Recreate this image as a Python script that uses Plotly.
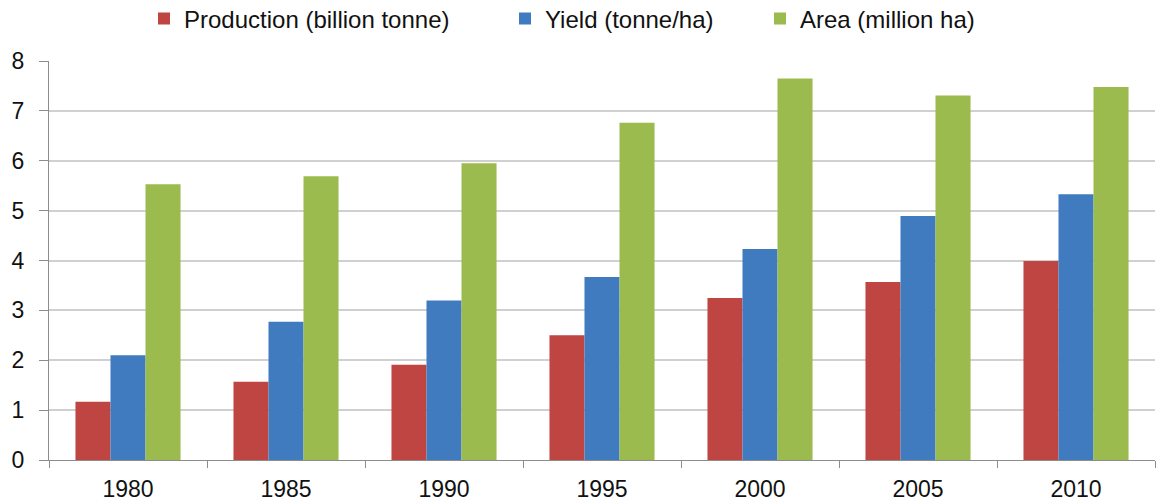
import plotly.graph_objects as go

years = ["1980", "1985", "1990", "1995", "2000", "2005", "2010"]
production = [1.17, 1.57, 1.91, 2.50, 3.25, 3.57, 3.99]   # billion tonne
yield_ = [2.10, 2.77, 3.20, 3.67, 4.23, 4.89, 5.33]       # tonne/ha
area = [5.53, 5.69, 5.95, 6.76, 7.65, 7.31, 7.48]         # million ha

names = ["Production (billion tonne)", "Yield (tonne/ha)", "Area (million ha)"]
colors = ["#BF4542", "#3F7BBE", "#9BBB4E"]
series = [production, yield_, area]

W, H = 1156, 503
ML, MR, MT, MB = 49, 1, 61, 43
plot_w = W - ML - MR
plot_h = H - MT - MB

FONT = "Liberation Sans, Arial, sans-serif"

fig = go.Figure()
legend_ids = ["legend", "legend2", "legend3"]
for name, vals, col, lg in zip(names, series, colors, legend_ids):
    fig.add_trace(go.Bar(x=years, y=vals, name=name, marker=dict(color=col, line=dict(width=0)),
                         legend=lg, showlegend=True))

# one legend box per series so each entry sits at its own spot in the header row
symbol_px = [164, 525, 780]
def legend_cfg(px):
    return dict(
        visible=True,
        orientation="h",
        x=(px - 20 - ML) / plot_w, xanchor="left",
        y=1 + (MT - 19) / plot_h, yanchor="middle",
        font=dict(family=FONT, size=24, color="#111"),
        bgcolor="rgba(0,0,0,0)", borderwidth=0,
    )

fig.update_layout(
    width=W, height=H,
    margin=dict(l=ML, r=MR, t=MT, b=MB, pad=0, autoexpand=False),
    paper_bgcolor="white", plot_bgcolor="white",
    showlegend=True,
    barmode="group", bargap=0.335, bargroupgap=0,
    font=dict(family=FONT, size=23, color="#111"),
    legend=legend_cfg(symbol_px[0]),
    legend2=legend_cfg(symbol_px[1]),
    legend3=legend_cfg(symbol_px[2]),
    xaxis=dict(
        automargin=False,
        showline=True, linecolor="#8c8c8c", linewidth=1,
        ticks="outside", tickson="boundaries", ticklen=7, tickcolor="#8c8c8c",
        tickfont=dict(family=FONT, size=23, color="#111"),
        ticklabelstandoff=8,
        showgrid=False,
    ),
    yaxis=dict(
        automargin=False,
        range=[0, 8], dtick=1, tick0=0,
        showline=True, linecolor="#8c8c8c", linewidth=1,
        ticks="outside", ticklen=9, tickcolor="#8c8c8c",
        gridcolor="#d0d0d0", gridwidth=1.5, zeroline=False,
        tickfont=dict(family=FONT, size=23, color="#111"),
        ticklabelstandoff=10,
    ),
)

fig.write_html("out.html")
